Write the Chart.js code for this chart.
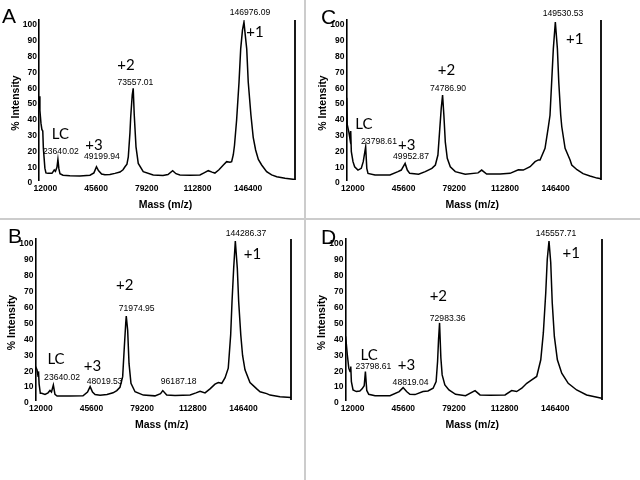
<!DOCTYPE html>
<html><head><meta charset="utf-8">
<script src="https://cdn.jsdelivr.net/npm/chart.js@4.4.0/dist/chart.umd.min.js"></script>
<style>
html,body{margin:0;padding:0;background:#fff;}
#wrap{position:relative;width:640px;height:480px;overflow:hidden;background:#fff;}
canvas{position:absolute;left:0;top:0;}
.vdiv{position:absolute;left:304px;top:0;width:2px;height:480px;background:#cccccc;}
.hdiv{position:absolute;left:0;top:218px;width:640px;height:2px;background:#cccccc;}
</style></head><body>
<div id="wrap">
<div class="vdiv"></div><div class="hdiv"></div>
<canvas id="cA" width="640" height="480"></canvas>
<canvas id="cB" width="640" height="480"></canvas>
<canvas id="cC" width="640" height="480"></canvas>
<canvas id="cD" width="640" height="480"></canvas>
</div>
<script>
// ---- tick labels ----
const xTickValues = [12000, 45600, 79200, 112800, 146400];
const yTickValues = [0, 10, 20, 30, 40, 50, 60, 70, 80, 90, 100];

// ---- Panel A ----
const massA = [11100, 11700, 12400, 13000, 13600, 14000, 15000, 15700, 17000, 19700, 21200, 22000, 23000, 23640, 24300, 25000, 27000, 31600, 38200, 44900, 47500, 49200, 50500, 52600, 54800, 58100, 61400, 64800, 66800, 68100, 69400, 70300, 71400, 71900, 72900, 73557, 74200, 75400, 76900, 80200, 86800, 93300, 96600, 99700, 101900, 104500, 111200, 117800, 120500, 123300, 125800, 127700, 130400, 133300, 135500, 137700, 138800, 139900, 140700, 142100, 143700, 144800, 146000, 146976, 147800, 148800, 149800, 151600, 153100, 154700, 156500, 158700, 162000, 165300, 168700, 174200, 180700];
const intensityA = [53, 44, 36, 32, 31, 20, 7.5, 4.5, 4.2, 4.2, 6.3, 5.5, 8, 13, 7, 4, 3, 2.7, 2.5, 3, 4.5, 8.4, 6, 3.8, 3.3, 3.5, 4.2, 5, 6.5, 8.4, 10, 14.7, 30, 40, 53.8, 58, 42, 21, 10.5, 5.3, 3.2, 2.8, 3.5, 5.9, 4, 3.2, 3, 3.2, 4.5, 5.9, 5, 4.4, 6.5, 9.5, 11.6, 11.2, 11.6, 16, 22, 38, 62, 83, 95, 100, 92, 83, 62, 41, 27, 19, 13, 9.5, 5.3, 3.2, 2.1, 1.1, 0.3];
const labelTextA = ['146976.09', '+1', '+2', '73557.01', 'LC', '23640.02', '+3', '49199.94'];
const labelMassA = [150954, 154269, 68742, 75040, 25315, 25647, 47526, 52830];
const labelIntA = [105.7, 93.4, 72.8, 61.7, 28.8, 18.0, 22.2, 14.7];

// ---- Panel B ----
const massB = [11800, 12800, 13500, 13800, 14200, 15000, 15900, 18100, 20100, 21400, 22400, 23640, 24700, 26100, 34700, 43300, 46300, 48019, 49600, 51300, 54600, 59200, 63200, 65700, 67800, 69600, 70700, 71600, 71975, 72900, 73800, 75100, 77800, 83300, 91000, 94700, 96187, 98800, 104300, 114300, 118200, 120900, 124200, 127500, 130800, 133000, 135300, 137500, 139600, 141200, 142100, 143200, 144286, 145600, 146500, 147900, 149100, 150700, 154000, 158500, 160700, 165100, 167300, 173900, 181200];
const intensityB = [21, 19, 15, 18, 10, 4.2, 4.2, 3.5, 4.5, 6, 5, 9.4, 3.5, 2.5, 2.5, 2.6, 5, 8.4, 5, 3.5, 3, 3.5, 4.5, 5.9, 8, 14.7, 33.5, 48, 52.8, 44, 23, 10.5, 5.2, 3.1, 2.6, 4, 5.9, 3.1, 2.8, 3.2, 4.5, 5.5, 4.5, 7, 10, 11, 10.5, 14, 20, 41, 62, 83, 100, 83, 62, 41, 28, 19, 11, 7, 5.2, 4, 3.1, 2.1, 1.5];
const labelTextB = ['144286.37', '+1', '+2', '71974.95', 'LC', '23640.02', '+3', '48019.53', '96187.18'];
const labelMassB = [151380, 155690, 70958, 78914, 25410, 29388, 49610, 57698, 106760];
const labelIntB = [104.7, 91.8, 72.3, 57.7, 25.8, 14.3, 21.4, 11.3, 11.3];

// ---- Panel C ----
const massC = [11200, 11600, 12600, 13400, 13900, 14300, 15400, 16500, 18700, 20900, 22200, 23799, 24550, 25350, 30000, 39900, 45200, 47400, 49953, 51400, 53000, 58900, 63300, 67700, 70000, 71700, 72800, 73900, 74787, 75650, 76600, 77900, 79900, 83200, 89800, 98300, 100700, 104000, 112900, 119500, 125000, 128300, 132800, 136100, 138300, 139400, 142700, 144900, 146000, 147100, 148200, 149530, 150900, 151800, 153100, 153800, 156000, 159300, 160400, 163900, 167900, 172500, 177200, 179800];
const intensityC = [52, 35, 30.6, 26, 31, 18, 11.6, 8.4, 6.3, 7.4, 11.6, 21, 7.4, 4.2, 3.2, 3.2, 5.3, 6.3, 10.5, 6.3, 4.2, 3.6, 5.3, 7.4, 9.5, 15.8, 30.6, 45.4, 53.8, 41, 24, 13.7, 8.4, 5.3, 3.6, 4.5, 6.3, 3.8, 3.8, 4.2, 6.5, 6.3, 8.4, 11.6, 12.7, 12.7, 20, 33.7, 41, 62, 83, 100, 83, 62, 41, 33.7, 20, 12.7, 9.5, 6.5, 4, 2.5, 1.2, 0.8];
const labelTextC = ['149530.53', '+1', '+2', '74786.90', 'LC', '23798.61', '+3', '49952.87'];
const labelMassC = [154635, 162392, 77396, 78390, 22565, 32643, 51008, 53859];
const labelIntC = [105.3, 89.4, 69.3, 58.0, 35.4, 24.2, 22.0, 14.7];

// ---- Panel D ----
const massD = [10700, 11800, 12800, 13600, 14100, 14500, 15600, 17800, 20100, 21600, 23000, 23799, 24700, 26000, 30200, 40100, 46200, 48819, 51100, 53300, 56700, 62000, 65300, 68700, 70700, 71660, 72300, 72983, 73850, 74700, 76500, 79200, 83600, 90200, 96500, 99800, 106400, 116400, 120800, 124100, 127500, 130800, 134100, 137400, 140100, 141800, 143400, 144400, 145558, 146700, 147700, 149100, 151100, 154000, 158300, 163900, 170500, 180500];
const intensityD = [40, 28.5, 20, 18, 21, 11.6, 6.3, 5.3, 5.7, 7, 9, 17.9, 6, 3.6, 2.7, 2.7, 5.3, 7.8, 5.3, 3.6, 3.4, 5.3, 5.7, 7.4, 11.6, 24.2, 38, 48.5, 26.4, 15.8, 9.5, 6.3, 3.6, 2.7, 5.9, 3.2, 3, 3.2, 5.9, 5.3, 7.4, 10.5, 12.7, 14.8, 25.3, 42.2, 67.5, 88.6, 100, 86.5, 61.2, 40, 25.3, 16.9, 10.5, 6.3, 3.2, 1.1];
const labelTextD = ['145557.71', '+1', '+2', '72983.36', 'LC', '23798.61', '+3', '48819.04'];
const labelMassD = [150199, 160343, 72164, 78396, 26218, 29069, 51081, 53733];
const labelIntD = [104.7, 92.2, 65.1, 51.1, 28.3, 21.1, 22.0, 10.9];

// ---- layout (pixels) ----
const YW = 30, XH = 20;
const panels = [
  {id:'cA', letter:'A', lx:2, ly:23, L:39, R:295, T:20, B:180, xmin:11100, xmax:180800,
   mass:massA, inten:intensityA, lt:labelTextA, lm:labelMassA, li:labelIntA},
  {id:'cB', letter:'B', lx:8, ly:243, L:35.5, R:291, T:239, B:400, xmin:11800, xmax:181200,
   mass:massB, inten:intensityB, lt:labelTextB, lm:labelMassB, li:labelIntB},
  {id:'cC', letter:'C', lx:321, ly:24, L:346.5, R:601, T:20, B:180, xmin:11100, xmax:179800,
   mass:massC, inten:intensityC, lt:labelTextC, lm:labelMassC, li:labelIntC},
  {id:'cD', letter:'D', lx:321, ly:244, L:345.5, R:602, T:239, B:400, xmin:10600, xmax:180700,
   mass:massD, inten:intensityD, lt:labelTextD, lm:labelMassD, li:labelIntD}
];

function makeDecor(p) {
  return {
    id: 'decor' + p.letter,
    afterDraw(chart) {
      const ctx = chart.ctx, a = chart.chartArea, xs = chart.scales.x, ys = chart.scales.y;
      ctx.save();
      ctx.strokeStyle = '#000'; ctx.lineWidth = 1.8;
      ctx.beginPath(); ctx.moveTo(a.right, a.top); ctx.lineTo(a.right, a.bottom); ctx.stroke();
      ctx.fillStyle = '#000';
      ctx.textAlign = 'left'; ctx.textBaseline = 'alphabetic';
      ctx.font = '21px "Liberation Sans", Arial, sans-serif';
      ctx.fillText(p.letter, p.lx, p.ly);
      ctx.font = 'bold 10.5px "Liberation Sans", Arial, sans-serif';
      ctx.save();
      ctx.translate(a.left - 23, (a.top + a.bottom) / 2 + 3);
      ctx.rotate(-Math.PI / 2);
      ctx.textAlign = 'center'; ctx.textBaseline = 'middle';
      ctx.fillText('% Intensity', 0, 0);
      ctx.restore();
      ctx.textAlign = 'center'; ctx.textBaseline = 'middle';
      ctx.fillText('Mass (m/z)', (a.left + a.right) / 2 - 1.5, a.bottom + 25.5);
      p.lt.forEach((t, i) => {
        ctx.font = t.length > 4 ? '8.6px "Liberation Sans", Arial, sans-serif' : '15px Lato, "Open Sans", sans-serif';
        ctx.fillText(t, xs.getPixelForValue(p.lm[i]), ys.getPixelForValue(p.li[i]));
      });
      ctx.restore();
    }
  };
}

const tickFont = {family: '"Liberation Sans", Arial, sans-serif', size: 8.5, weight: 'bold'};

panels.forEach(p => {
  const pts = p.mass.map((m, i) => ({x: m, y: p.inten[i]}));
  new Chart(document.getElementById(p.id), {
    type: 'line',
    data: {datasets: [{data: pts, borderColor: '#000', borderWidth: 1.5, pointRadius: 0, tension: 0, fill: false}]},
    options: {
      responsive: false, animation: false, devicePixelRatio: 1,
      layout: {padding: {left: p.L - YW, right: 640 - p.R, top: p.T, bottom: 480 - p.B - XH}},
      plugins: {legend: {display: false}, tooltip: {enabled: false}},
      scales: {
        x: {
          type: 'linear', min: p.xmin, max: p.xmax,
          grid: {display: false, drawTicks: false}, border: {display: false},
          afterBuildTicks: s => { s.ticks = xTickValues.map(v => ({value: v})); },
          afterFit: s => { s.height = XH; },
          ticks: {font: tickFont, color: '#000', padding: 4, labelOffset: 5, maxRotation: 0, autoSkip: false,
                  callback: v => String(v)}
        },
        y: {
          type: 'linear', min: 0, max: 101.3,
          grid: {display: false, drawTicks: false}, border: {display: true, color: '#000', width: 1.6},
          afterBuildTicks: s => { s.ticks = yTickValues.map(v => ({value: v})); },
          afterFit: s => { s.width = YW; },
          ticks: {font: tickFont, color: '#000', padding: 2, labelOffset: 3, autoSkip: false,
                  callback: v => (v === 0 ? '0  ' : String(v))}
        }
      }
    },
    plugins: [makeDecor(p)]
  });
});
</script>
</body></html>
